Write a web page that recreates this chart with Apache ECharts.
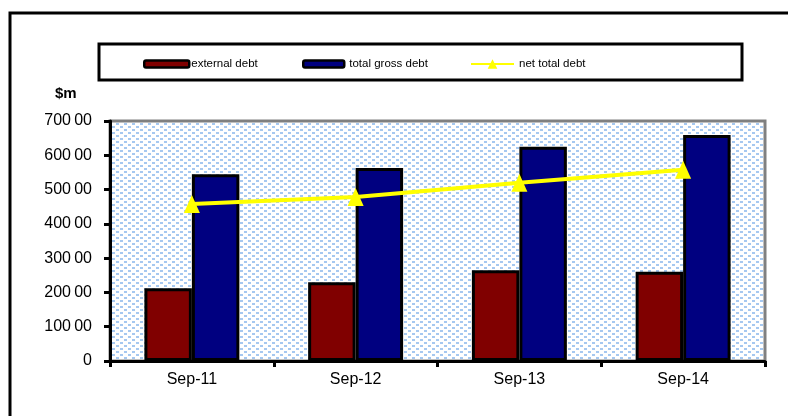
<!DOCTYPE html>
<html>
<head>
<meta charset="utf-8">
<script src="https://cdn.jsdelivr.net/npm/echarts@6/dist/echarts.min.js"></script>
<style>html,body{margin:0;padding:0;background:#fff}#c{width:788px;height:416px}</style>
</head>
<body>
<div id="c"></div>
<script>
var categories = ['Sep-11', 'Sep-12', 'Sep-13', 'Sep-14'];
var externalDebt = [21200, 23000, 26500, 26000];
var totalGrossDebt = [54500, 56300, 62500, 65900];
var netTotalDebt = [45800, 47800, 52000, 55800];
var yTicks = [0, 10000, 20000, 30000, 40000, 50000, 60000, 70000];

function fmtTick(v) {
  var s = String(v);
  return s.length > 2 && v !== 0 ? s.slice(0, s.length - 2) + '\u2009' + s.slice(-2) : s;
}

var tile = document.createElement('canvas');
tile.width = 8; tile.height = 6;
var tc = tile.getContext('2d');
tc.fillStyle = '#ffffff'; tc.fillRect(0, 0, 8, 6);
tc.fillStyle = '#a6c8f0';
tc.fillRect(0, 0, 3, 2);
tc.fillRect(4, 3, 3, 2);

var chart = echarts.init(document.getElementById('c'));
var font = 'Liberation Sans, Arial, sans-serif';
var legendText = { fontFamily: font, fontSize: 11.5, color: '#000' };
chart.setOption({
  animation: false,
  backgroundColor: '#fff',
  graphic: [
    { type: 'rect', shape: { x: 10, y: 13, width: 800, height: 420 }, style: { fill: 'none', stroke: '#000', lineWidth: 3 }, z: 100 },
    { type: 'rect', shape: { x: 99, y: 44, width: 643, height: 36 }, style: { fill: 'none', stroke: '#000', lineWidth: 3 }, z: 100 },
    { type: 'text', left: 55, top: 86, style: { text: '$m', font: 'bold 15px ' + font, fill: '#000' } }
  ],
  legend: [
    { data: ['external debt'], left: 143, top: 58, padding: 0, itemWidth: 45, itemHeight: 7,
      textStyle: Object.assign({ padding: [0, 0, 0, -3] }, legendText),
      itemStyle: { borderColor: '#000', borderWidth: 2.5 } },
    { data: ['total gross debt'], left: 302, top: 58, padding: 0, itemWidth: 41, itemHeight: 7,
      textStyle: legendText,
      itemStyle: { borderColor: '#000', borderWidth: 2.5 } },
    { data: ['net total debt'], left: 470, top: 58, padding: 0, itemWidth: 43, itemHeight: 12,
      textStyle: legendText }
  ],
  grid: {
    left: 110, right: 23, top: 121, bottom: 55,
    show: true,
    backgroundColor: { image: tile, repeat: 'repeat' },
    borderColor: '#808080', borderWidth: 3
  },
  xAxis: {
    type: 'category',
    data: categories,
    axisLine: { lineStyle: { color: '#000', width: 3 } },
    axisTick: { show: true, length: 6, lineStyle: { color: '#000', width: 3 } },
    axisLabel: { fontFamily: font, fontSize: 16, color: '#000', margin: 11 }
  },
  yAxis: {
    type: 'value',
    min: yTicks[0], max: yTicks[yTicks.length - 1], interval: yTicks[1] - yTicks[0],
    splitLine: { show: false },
    axisLine: { show: true, lineStyle: { color: '#000', width: 3 } },
    axisTick: { show: true, length: 6, lineStyle: { color: '#000', width: 3 } },
    axisLabel: { fontFamily: font, fontSize: 16, color: '#000', margin: 18, formatter: fmtTick }
  },
  series: [
    { name: 'external debt', type: 'bar', data: externalDebt, barWidth: '29%', barGap: '0%',
      itemStyle: { color: '#800000', borderColor: '#000', borderWidth: 3 } },
    { name: 'total gross debt', type: 'bar', data: totalGrossDebt, barWidth: '29%', barGap: '0%',
      itemStyle: { color: '#000080', borderColor: '#000', borderWidth: 3 } },
    { name: 'net total debt', type: 'line', data: netTotalDebt, symbol: 'triangle', symbolSize: [16, 18],
      lineStyle: { color: '#ffff00', width: 4 }, itemStyle: { color: '#ffff00' }, z: 5 }
  ]
});
</script>
</body>
</html>
